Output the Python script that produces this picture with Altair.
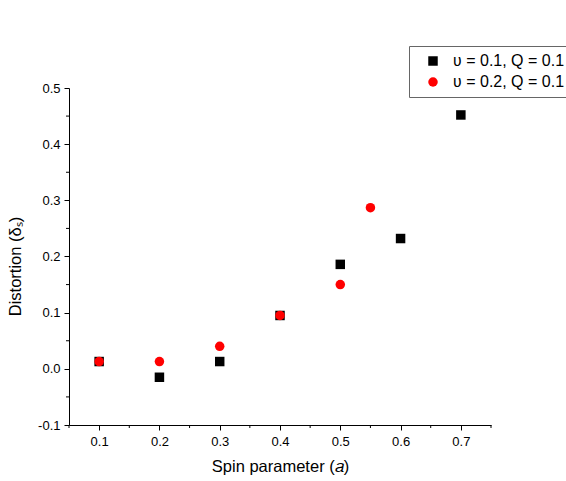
import altair as alt
import pandas as pd

# Series 1: ʋ = 0.1, Q = 0.1 (black squares)
a1 = [0.1, 0.2, 0.3, 0.4, 0.5, 0.6, 0.7]
d1 = [0.013, -0.015, 0.013, 0.095, 0.186, 0.232, 0.452]
# Series 2: ʋ = 0.2, Q = 0.1 (red circles)
a2 = [0.1, 0.2, 0.3, 0.4, 0.5, 0.55]
d2 = [0.013, 0.013, 0.040, 0.095, 0.150, 0.287]

s1 = "\u028b = 0.1, Q = 0.1"
s2 = "\u028b = 0.2, Q = 0.1"

x_major = [0.1, 0.2, 0.3, 0.4, 0.5, 0.6, 0.7]
x_minor = [0.05, 0.15, 0.25, 0.35, 0.45, 0.55, 0.65, 0.75]
y_major = [-0.1, 0.0, 0.1, 0.2, 0.3, 0.4, 0.5]
y_minor = [-0.05, 0.05, 0.15, 0.25, 0.35, 0.45]

df = pd.DataFrame(
    {"a": a1 + a2, "d": d1 + d2, "series": [s1] * len(a1) + [s2] * len(a2)}
)

W, H = 422, 337
FONT = "Liberation Sans"

xs = alt.Scale(domain=[0.05, 0.75], nice=False, zero=False)
ys = alt.Scale(domain=[-0.1, 0.5], nice=False, zero=False)

points = alt.Chart(df).mark_point(filled=True, opacity=1, size=90).encode(
    x=alt.X("a:Q", scale=xs, axis=alt.Axis(
        values=x_major, format=".1f", title="Spin parameter  (\U0001d44e)",
        tickSize=5, tickColor="black", domainColor="black", labelColor="black",
        labelFont=FONT, labelFontSize=13, titleFont=FONT, titleFontSize=16.5,
        titleFontWeight="normal", titleColor="black", labelPadding=5, titlePadding=10,
        grid=False)),
    y=alt.Y("d:Q", scale=ys, axis=alt.Axis(
        values=y_major, format=".1f", title="Distortion (\u03b4\u209b)",
        labelExpr="replace(datum.label, '\u2212', '-')",
        tickSize=5, tickColor="black", domainColor="black", labelColor="black",
        labelFont=FONT, labelFontSize=13, titleFont=FONT, titleFontSize=16.5,
        titleFontWeight="normal", titleColor="black", labelPadding=4, titlePadding=14,
        titleY=178, grid=False)),
    color=alt.Color("series:N", scale=alt.Scale(domain=[s1, s2], range=["black", "#ff0000"]),
                    legend=alt.Legend(title=None)),
    shape=alt.Shape("series:N", scale=alt.Scale(domain=[s1, s2], range=["square", "circle"]),
                    legend=alt.Legend(title=None)),
)

xminor = alt.Chart(pd.DataFrame({"v": x_minor})).mark_rule(color="black", strokeWidth=1).encode(
    x=alt.X("v:Q", scale=xs), y=alt.value(H), y2=alt.value(H + 3)
)
yminor = alt.Chart(pd.DataFrame({"v": y_minor})).mark_rule(color="black", strokeWidth=1).encode(
    y=alt.Y("v:Q", scale=ys), x=alt.value(0), x2=alt.value(-3)
)

chart = alt.layer(points, xminor, yminor).properties(
    width=W, height=H,
    autosize=alt.AutoSizeParams(type="none"),
    padding={"left": 69, "top": 88, "right": 75, "bottom": 56},
).configure_view(stroke=None).configure_legend(
    orient="none", legendX=340, legendY=-42,
    strokeColor="#666666", padding=7, fillColor="white",
    labelFont=FONT, labelFontSize=16, labelColor="black",
    symbolSize=90, rowPadding=5, labelOffset=12, symbolOpacity=1,
    symbolOffset=9, cornerRadius=0, labelLimit=300,
)

chart.save("out.html", embed_options={"renderer": "svg", "actions": False})
